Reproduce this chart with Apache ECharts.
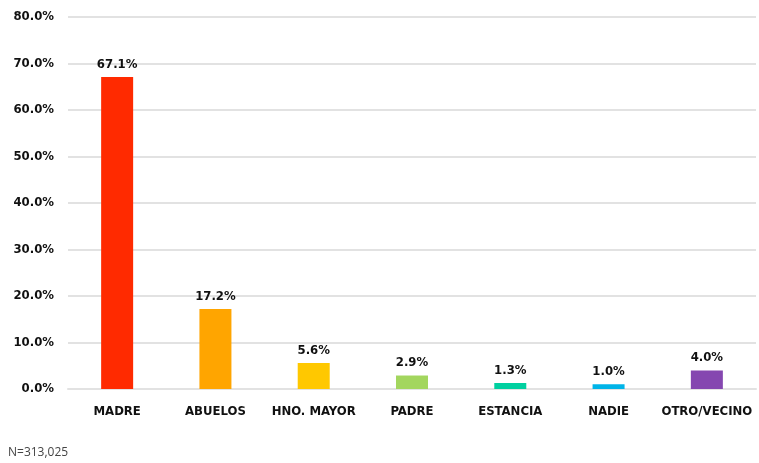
<!DOCTYPE html>
<html>
<head>
<meta charset="utf-8">
<script src="https://cdn.jsdelivr.net/npm/echarts@6/dist/echarts.min.js"></script>
<style>
  html, body { margin: 0; padding: 0; background: #fff; }
  #main { width: 759px; height: 463px; }
</style>
</head>
<body>
<div id="main"></div>
<script>
var categories = ['MADRE', 'ABUELOS', 'HNO. MAYOR', 'PADRE', 'ESTANCIA', 'NADIE', 'OTRO/VECINO'];
var values = [67.1, 17.2, 5.6, 2.9, 1.3, 1.0, 4.0];
var colors = ['#ff2a00', '#ffa500', '#ffc800', '#a3d65e', '#00d0a0', '#00b4e8', '#8547b0'];
var note = 'N=313,025';

var font = '"DejaVu Sans Condensed", "Liberation Sans", sans-serif';

var chartDom = document.getElementById('main');
var myChart = echarts.init(chartDom);

var option = {
  animation: false,
  textStyle: { fontFamily: font },
  grid: { left: 68, right: 3, top: 17, bottom: 74 },
  graphic: [{
    type: 'text',
    left: 8,
    top: 447,
    style: { text: note, fill: '#444', fontSize: 12, fontFamily: '"Open Sans", sans-serif' }
  }],
  xAxis: {
    type: 'category',
    data: categories,
    axisLine: { lineStyle: { color: '#e2e2e2', width: 2 } },
    axisTick: { show: false },
    axisLabel: { color: '#111', fontWeight: 'bold', fontSize: 13, margin: 16, interval: 0 }
  },
  yAxis: {
    type: 'value',
    min: 0,
    max: 80,
    interval: 10,
    axisLine: { show: false },
    axisTick: { show: false },
    splitLine: { lineStyle: { color: '#e2e2e2', width: 2 } },
    axisLabel: {
      color: '#111', fontWeight: 'bold', fontSize: 13, margin: 14,
      formatter: function (v) { return v.toFixed(1) + '%'; }
    }
  },
  series: [{
    type: 'bar',
    barWidth: 32,
    data: values.map(function (v, i) {
      return { value: v, itemStyle: { color: colors[i] } };
    }),
    label: {
      show: true,
      position: 'top',
      distance: 6,
      color: '#111',
      fontWeight: 'bold',
      fontSize: 13,
      formatter: function (p) { return p.value.toFixed(1) + '%'; }
    }
  }]
};

myChart.setOption(option);
</script>
</body>
</html>
